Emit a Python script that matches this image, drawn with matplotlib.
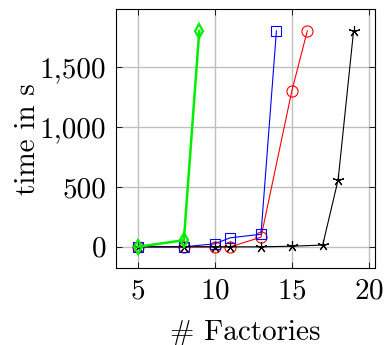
import matplotlib.pyplot as plt
from matplotlib.ticker import FuncFormatter

plt.rcParams['font.family'] = 'cmr10'
plt.rcParams['mathtext.fontset'] = 'cm'
plt.rcParams['axes.formatter.use_mathtext'] = True

# factories vs runtime (s) per method
x_black = [5, 8, 10, 11, 13, 15, 17, 18, 19]
t_black = [0, 0, 0, 0, 0, 5, 15, 560, 1800]

x_red = [5, 8, 10, 11, 13, 15, 16]
t_red = [0, 0, 0, 0, 80, 1300, 1800]

x_blue = [5, 8, 10, 11, 13, 14]
t_blue = [0, 0, 25, 75, 105, 1800]

x_green = [5, 8, 9]
t_green = [0, 55, 1800]

fig = plt.figure(figsize=(3.84, 3.45), dpi=100)
ax = fig.add_axes([0.302, 0.222, 0.675, 0.751])

ax.plot(x_red, t_red, color='red', lw=0.8, marker='o', ms=8,
        mfc='none', mec='red', mew=0.8, zorder=3)
ax.plot(x_blue, t_blue, color='blue', lw=0.8, marker='s', ms=7.5,
        mfc='none', mec='blue', mew=0.8, zorder=3)
ax.plot(x_black, t_black, color='black', lw=0.8, marker=(5, 2, 0), ms=8,
        mec='black', mew=0.8, zorder=3)
ax.plot(x_green, t_green, color='#00ee00', lw=1.8, marker='d', ms=7,
        mfc='none', mec='#00ee00', mew=1.6, zorder=4)

ax.set_xlim(3.6, 20.4)
ax.set_ylim(-180, 1980)
ax.set_xticks([5, 10, 15, 20])
ax.set_yticks([0, 500, 1000, 1500])
ax.yaxis.set_major_formatter(FuncFormatter(lambda v, p: f'{int(v):,}'))

ax.grid(True, color='#bfbfbf', lw=1)
ax.set_axisbelow(True)
ax.tick_params(direction='in', length=4, width=0.6, top=True, right=True,
               labelsize=21, pad=7)
for s in ax.spines.values():
    s.set_linewidth(0.8)

ax.set_xlabel('# Factories', fontsize=21, labelpad=11)
ax.set_ylabel('time in s', fontsize=21)
ax.yaxis.set_label_coords(-0.29, 0.5)

fig.savefig('out.png', dpi=100)
